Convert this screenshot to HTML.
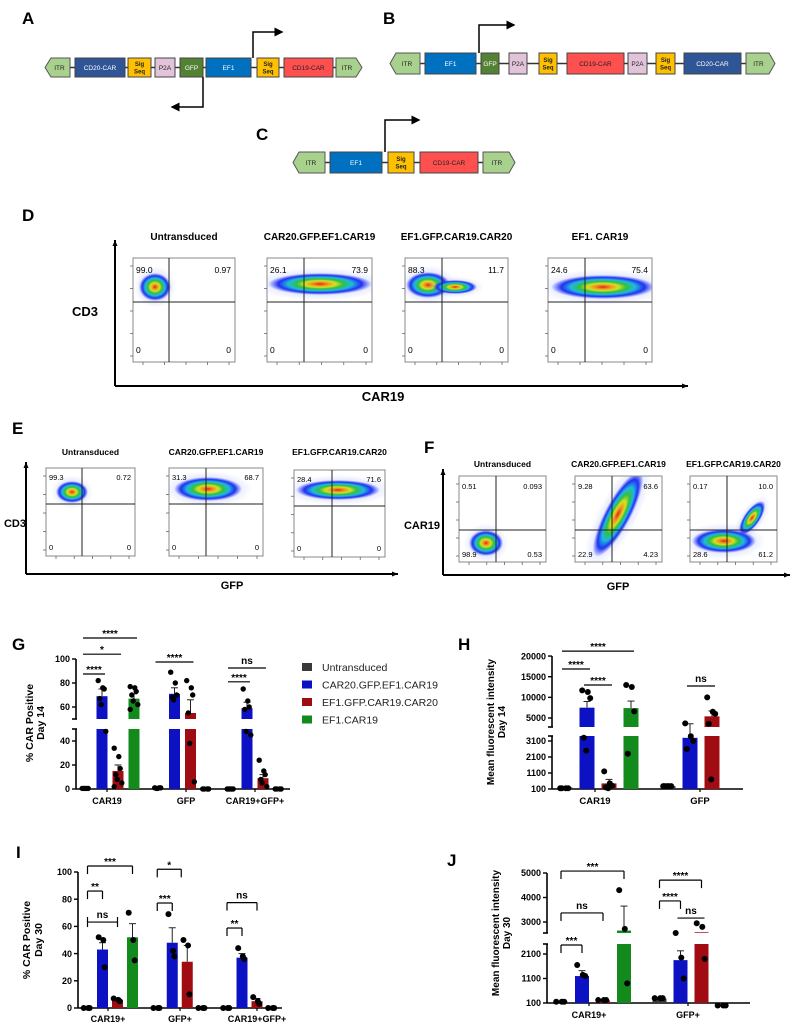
<!DOCTYPE html>
<html><head><meta charset="utf-8"><title>CAR constructs figure</title>
<style>
html,body{margin:0;padding:0;background:#fff;}
svg{display:block;font-family:"Liberation Sans",Arial,sans-serif;}
.nar{font-family:"Liberation Sans Narrow","Liberation Sans",sans-serif;}
</style></head>
<body>
<svg id="fig" xmlns="http://www.w3.org/2000/svg" width="793" height="1026" viewBox="0 0 793 1026">
<defs id="defs">
<radialGradient id="heat" cx="50%" cy="50%" r="50%">
<stop offset="0" stop-color="#d8281a"/>
<stop offset="0.15" stop-color="#f09020"/>
<stop offset="0.3" stop-color="#d8e020"/>
<stop offset="0.45" stop-color="#30c040"/>
<stop offset="0.62" stop-color="#20b8e0"/>
<stop offset="0.8" stop-color="#2030f0"/>
<stop offset="1" stop-color="#3040ff" stop-opacity="0"/>
</radialGradient>
<radialGradient id="haze" cx="50%" cy="50%" r="50%">
<stop offset="0" stop-color="#4060ff" stop-opacity="0.4"/>
<stop offset="1" stop-color="#4060ff" stop-opacity="0"/>
</radialGradient>
<marker id="ah" markerWidth="6" markerHeight="6" refX="5" refY="3" orient="auto"><path d="M0,0 L6,3 L0,6 z" fill="#000"/></marker>
</defs>
<g id="root"></g>
</svg>
<script>
// ===== Chart data (top level) =====
// Panel G: % CAR positive day 14
const gCategories = ['CAR19','GFP','CAR19+GFP+'];
const gUntransduced = [0.5, 0.8, 0.2];
const gCar20Gfp = [69, 71, 59];
const gEf1Gfp = [15, 55, 9];
const gEf1Car19 = [67, 0.3, 0.2];
const gErrCar20 = [6, 5, 5];
const gErrEf1Gfp = [5, 11, 3];
const gErrEf1 = [4, 0, 0];
const gPtsUnt = [[0.5,0.5,0.5,0.5,0.5],[1,1,1,0.5,0.5],[0,0,0,0,0]];
const gPtsCar20 = [[82,76,75,67,62,48],[89,80,70,68,66],[75,65,60,58,48,45]];
const gPtsEf1Gfp = [[34,27,17,12,8,5,2],[82,76,70,55,38,6],[24,15,12,8,5,2]];
const gPtsEf1 = [[77,76,73,70,65,62,58],[0,0,0,0],[0,0,0,0]];
const gTicksUpper = [60,80,100];
const gTicksLower = [0,20,40];

// Panel H: MFI day 14
const hCategories = ['CAR19','GFP'];
const hUntransduced = [200, 280];
const hCar20Gfp = [7500, 3300];
const hEf1Gfp = [450, 5400];
const hEf1Car19 = [7400, null];
const hErrCar20 = [1500, 300];
const hErrEf1Gfp = [250, 1300];
const hErrEf1 = [1700, 0];
const hPtsUnt = [[150,150,150,150],[280,280,280,280,280]];
const hPtsCar20 = [[11700,11300,9800,3300,2500],[3700,3400,3100,2600]];
const hPtsEf1Gfp = [[1200,450,300,200,150],[10000,6500,6000,3600,700]];
const hPtsEf1 = [[13000,12500,6600,2300],[]];
const hTicksUpper = [5000,10000,15000,20000];
const hTicksLower = [100,1100,2100,3100];

// Panel I: % CAR positive day 30
const iCategories = ['CAR19+','GFP+','CAR19+GFP+'];
const iUntransduced = [0, 0, 0];
const iCar20Gfp = [43, 48, 37];
const iEf1Gfp = [6, 34, 5];
const iEf1Car19 = [52, 0, 0];
const iErrCar20 = [5, 11, 3];
const iErrEf1Gfp = [1, 12, 2];
const iErrEf1 = [10, 0, 0];
const iPtsUnt = [[0,0,0],[0,0,0],[0,0,0]];
const iPtsCar20 = [[52,50,30],[69,42,38],[44,38,36]];
const iPtsEf1Gfp = [[7,6,5],[50,46,10],[8,5,3]];
const iPtsEf1 = [[70,50,35],[0,0,0],[0,0,0]];
const iTicks = [0,20,40,60,80,100];

// Panel J: MFI day 30
const jCategories = ['CAR19+','GFP+'];
const jUntransduced = [150, 280];
const jCar20Gfp = [1200, 1850];
const jEf1Gfp = [200, 2580];
const jEf1Car19 = [2650, 0];
const jErrCar20 = [220, 380];
const jErrEf1Gfp = [40, 0];
const jErrEf1 = [1000, 0];
const jPtsUnt = [[150,150,150],[300,300,300]];
const jPtsCar20 = [[1650,1250,1200],[2550,1950,1100]];
const jPtsEf1Gfp = [[220,220,220],[2950,2800,1900]];
const jPtsEf1 = [[4300,2720,900],[0,0,0]];
const jTicksUpper = [3000,4000,5000];
const jTicksLower = [100,1100,2100];

const legendLabels = ['Untransduced','CAR20.GFP.EF1.CAR19','EF1.GFP.CAR19.CAR20','EF1.CAR19'];
const seriesColors = ['#3a3a3a','#0c12c4','#a00c12','#138a1c'];

// ===== helpers =====
const NS='http://www.w3.org/2000/svg';
const root=document.getElementById('root');
const defs=document.getElementById('defs');
function E(tag,attrs,parent){const e=document.createElementNS(NS,tag);for(const k in attrs)e.setAttribute(k,attrs[k]);(parent||root).appendChild(e);return e;}
function T(x,y,txt,attrs,parent){const e=E('text',Object.assign({x:x,y:y},attrs||{}),parent);e.textContent=txt;return e;}

// ===== Panel letters =====
const letters=[['A',22,24],['B',383,24],['C',256,140],['D',22,221],['E',12,434],['F',424,453],['G',12,650],['H',458,650],['I',16,858],['J',447,866]];
letters.forEach(l=>{
  const t=T(l[1],l[2],l[0],{'font-size':17,'font-weight':'bold'});
  
  
});

// ===== Constructs =====
const partColors={ITR:'#a9d18e','CD20-CAR':'#2f5597',Sig:'#ffc000',P2A:'#e2c4da',GFP:'#548235',EF1:'#0070c0','CD19-CAR':'#ff5050'};
function construct(id,y1,y2,parts,arrows){
  const g=E('g',{});
  
  
  const cy=(y1+y2)/2;
  const bb=E('line',{x1:parts[0][1],x2:parts[parts.length-1][2],y1:cy,y2:cy,stroke:'#333','stroke-width':1.5},g);
  
  
  parts.forEach((p,i)=>{
    const [name,x1,x2,dir]=p;
    const col=partColors[name];
    let shp;
    if(name==='ITR'){
      const t=6;
      const pts= dir==='L' ? `${x1},${cy} ${x1+t},${y1} ${x2},${y1} ${x2},${y2} ${x1+t},${y2}` : `${x1},${y1} ${x2-t},${y1} ${x2},${cy} ${x2-t},${y2} ${x1},${y2}`;
      shp=E('polygon',{points:pts,fill:col,stroke:'#555','stroke-width':1},g);
    } else {
      shp=E('rect',{x:x1,y:y1,width:x2-x1,height:y2-y1,fill:col,stroke:'#444','stroke-width':1},g);
    }
    
    
    const tc=(name==='CD20-CAR'||name==='EF1'||name==='GFP')?'#fff':'#222';
    const cx=(x1+x2)/2;
    if(name==='Sig'){
      const a=T(cx,cy-1.5,'Sig',{'font-size':6,'text-anchor':'middle',fill:tc,'font-weight':'bold'},g);
      
      
      const b=T(cx,cy+6,'Seq',{'font-size':6,'text-anchor':'middle',fill:tc,'font-weight':'bold'},g);
      
      
    } else {
      const a=T(cx+(name==='ITR'?(dir==='L'?2:-2):0),cy+2.5,name,{'font-size':6.5,'text-anchor':'middle',fill:tc},g);
      
      
    }
  });
  arrows.forEach(a=>{
    const pa=E('polyline',{points:a,fill:'none',stroke:'#000','stroke-width':1.5,'marker-end':'url(#ah)'},g);
    
    
  });
}
construct('a',58,77,[['ITR',45,70,'L'],['CD20-CAR',75,125],['Sig',128,151],['P2A',155,175],['GFP',180,203],['EF1',206,251],['Sig',257,279],['CD19-CAR',284,333],['ITR',336,362,'R']],
  ['253,58 253,32 282,32','203,77 203,107 172,107']);
construct('b',53,74,[['ITR',390,420,'L'],['EF1',425,476],['GFP',481,499],['P2A',509,527],['Sig',539,557],['CD19-CAR',567,624],['P2A',628,647],['Sig',656,675],['CD20-CAR',684,741],['ITR',746,775,'R']],
  ['479,53 479,25 514,25']);
construct('c',152,173,[['ITR',293,325,'L'],['EF1',330,382],['Sig',388,414],['CD19-CAR',420,478],['ITR',483,515,'R']],
  ['385,152 385,120 419,120']);

// ===== Flow plots =====
let clipN=0;
function flowPanel(id,boxes,axis,ylab,xlab){
  const g=E('g',{});
  
  
  const va=E('line',{x1:axis.x,y1:axis.y1,x2:axis.x,y2:axis.y2,stroke:'#000','stroke-width':2},g);
  
  
  const vh=E('polygon',{points:`${axis.x-2.5},${axis.y1+6} ${axis.x},${axis.y1} ${axis.x+2.5},${axis.y1+6}`,fill:'#000'},g);
  
  
  const ha=E('line',{x1:axis.x,y1:axis.y2,x2:axis.x2,y2:axis.y2,stroke:'#000','stroke-width':2},g);
  
  
  const hh=E('polygon',{points:`${axis.x2-6},${axis.y2-2.5} ${axis.x2},${axis.y2} ${axis.x2-6},${axis.y2+2.5}`,fill:'#000'},g);
  
  
  const yl=T(ylab.x,ylab.y,ylab.t,{'font-size':ylab.s,'font-weight':'bold','text-anchor':'middle','class':'nar'},g);
  
  
  const xl=T(xlab.x,xlab.y,xlab.t,{'font-size':xlab.s,'font-weight':'bold','text-anchor':'middle','class':'nar'},g);
  
  
  boxes.forEach(b=>{
    const bg=E('g',{},g);
    
    
    const cid='clip'+(clipN++);
    const cp=E('clipPath',{id:cid},defs);
    E('rect',{x:b.x1,y:b.y1,width:b.x2-b.x1,height:b.y2-b.y1},cp);
    const tt=T((b.x1+b.x2)/2,b.ty,b.title,{'font-size':b.ts,'font-weight':'bold','text-anchor':'middle','class':'nar'},bg);
    
    
    const cg=E('g',{'clip-path':`url(#${cid})`},bg);
    
    
    b.blobs.forEach(bl=>{
      const hz=E('ellipse',{cx:bl[0],cy:bl[1],rx:bl[2]*1.3,ry:bl[3]*1.5,fill:'url(#haze)',transform:`rotate(${bl[4]||0} ${bl[0]} ${bl[1]})`},cg);
      
      
      const el=E('ellipse',{cx:bl[0],cy:bl[1],rx:bl[2],ry:bl[3],fill:'url(#heat)',transform:`rotate(${bl[4]||0} ${bl[0]} ${bl[1]})`},cg);
      
      
    });
    const fr=E('rect',{x:b.x1,y:b.y1,width:b.x2-b.x1,height:b.y2-b.y1,fill:'none',stroke:'#888','stroke-width':1},bg);
    
    
    const qv=E('line',{x1:b.qx,x2:b.qx,y1:b.y1,y2:b.y2,stroke:'#222','stroke-width':1},bg);
    
    
    const qh=E('line',{x1:b.x1,x2:b.x2,y1:b.qy,y2:b.qy,stroke:'#222','stroke-width':1},bg);
    
    
    for(let k=0;k<5;k++){
      const ty=b.y1+8+k*(b.y2-b.y1-14)/4;
      const tk=E('line',{x1:b.x1-3,x2:b.x1,y1:ty,y2:ty,stroke:'#666','stroke-width':0.8},bg);
      
      
      const tx=b.x1+10+k*(b.x2-b.x1-16)/4;
      const tk2=E('line',{x1:tx,x2:tx,y1:b.y2,y2:b.y2+3,stroke:'#666','stroke-width':0.8},bg);
      
      
    }
    const q=b.q;
    [[b.x1+3,b.ny1,q[0],'start'],[b.x2-4,b.ny1,q[1],'end'],[b.x1+3,b.ny2,q[2],'start'],[b.x2-4,b.ny2,q[3],'end']].forEach(n=>{
      const qt=T(n[0],n[1],n[2],{'font-size':b.ns,'text-anchor':n[3],'class':'nar'},bg);
      
      
    });
  });
}
flowPanel('d',[
  {x1:133,x2:235,y1:258,y2:362,qx:169,qy:302,ty:240,ts:10,title:'Untransduced',ny1:273,ny2:353,ns:8.5,q:['99.0','0.97','0','0'],blobs:[[155,287,16,14]]},
  {x1:267,x2:372,y1:258,y2:362,qx:304,qy:302,ty:240,ts:10,title:'CAR20.GFP.EF1.CAR19',ny1:273,ny2:353,ns:8.5,q:['26.1','73.9','0','0'],blobs:[[320,284,52,11]]},
  {x1:405,x2:508,y1:258,y2:362,qx:442,qy:302,ty:240,ts:10,title:'EF1.GFP.CAR19.CAR20',ny1:273,ny2:353,ns:8.5,q:['88.3','11.7','0','0'],blobs:[[428,285,22,13],[455,287,22,7]]},
  {x1:548,x2:652,y1:258,y2:362,qx:585,qy:302,ty:240,ts:10,title:'EF1. CAR19',ny1:273,ny2:353,ns:8.5,q:['24.6','75.4','0','0'],blobs:[[603,287,52,12]]}
],{x:115,y1:240,y2:386,x2:688},{x:85,y:316,t:'CD3',s:13},{x:383,y:401,t:'CAR19',s:13});

flowPanel('e',[
  {x1:46,x2:135,y1:468,y2:556,qx:82,qy:504,ty:455,ts:8.5,title:'Untransduced',ny1:480,ny2:550,ns:7.5,q:['99.3','0.72','0','0'],blobs:[[72,492,16,11]]},
  {x1:169,x2:263,y1:468,y2:556,qx:206,qy:504,ty:455,ts:8.5,title:'CAR20.GFP.EF1.CAR19',ny1:480,ny2:550,ns:7.5,q:['31.3','68.7','0','0'],blobs:[[208,489,34,12]]},
  {x1:294,x2:385,y1:470,y2:557,qx:332,qy:506,ty:455,ts:8.5,title:'EF1.GFP.CAR19.CAR20',ny1:482,ny2:551,ns:7.5,q:['28.4','71.6','0','0'],blobs:[[338,490,42,10]]}
],{x:26,y1:462,y2:574,x2:398},{x:15,y:527,t:'CD3',s:11},{x:232,y:589,t:'GFP',s:11});

flowPanel('f',[
  {x1:459,x2:546,y1:476,y2:562,qx:496,qy:530,ty:467,ts:8.5,title:'Untransduced',ny1:489,ny2:557,ns:7.5,q:['0.51','0.093','98.9','0.53'],blobs:[[486,543,17,13]]},
  {x1:575,x2:662,y1:476,y2:562,qx:612,qy:530,ty:467,ts:8.5,title:'CAR20.GFP.EF1.CAR19',ny1:489,ny2:557,ns:7.5,q:['9.28','63.6','22.9','4.23'],blobs:[[618,514,48,13,-62]]},
  {x1:690,x2:777,y1:476,y2:562,qx:727,qy:530,ty:467,ts:8.5,title:'EF1.GFP.CAR19.CAR20',ny1:489,ny2:557,ns:7.5,q:['0.17','10.0','28.6','61.2'],blobs:[[724,541,32,12],[752,518,20,8,-55]]}
],{x:443,y1:469,y2:575,x2:790},{x:422,y:529,t:'CAR19',s:11},{x:618,y:590,t:'GFP',s:11});

// ===== Bar charts =====
function makeScale(lo,up,brk,loTopY,upBotY){
  const f=v=> (up===null||v<=brk)?lo(v):up(v);
  f.lo=lo;f.up=up;f.brk=brk;f.loTopY=loTopY;f.upBotY=upBotY;return f;
}
function barChart(cfg){
  const g=E('g',{});
  
  
  const y=cfg.y, base=cfg.baseY;
  const xPos=(gi,si)=>cfg.c0+gi*cfg.step+(si-1.5)*cfg.space;
  cfg.axisSegs.forEach(s=>{
    const a=E('line',{x1:cfg.ax,x2:cfg.ax,y1:s[0],y2:s[1],stroke:'#000','stroke-width':1.6},g);
    
    
    if(cfg.axisSegs.length>1){
      [s[0],s[1]].forEach(yy=>{
        if(yy===cfg.axisSegs[0][0]||yy===cfg.axisSegs[cfg.axisSegs.length-1][1])return;
        const bk=E('line',{x1:cfg.ax-4,x2:cfg.ax+1,y1:yy,y2:yy,stroke:'#000','stroke-width':1.6},g);
        
        
      });
    }
  });
  const xa=E('line',{x1:cfg.ax,x2:cfg.axEnd,y1:base,y2:base,stroke:'#000','stroke-width':1.6},g);
  
  
  cfg.ticks.forEach(v=>{
    const yy=y(v);
    const tk=E('line',{x1:cfg.ax-4,x2:cfg.ax,y1:yy,y2:yy,stroke:'#000','stroke-width':1.4},g);
    
    
    const tl=T(cfg.ax-6,yy+3.2,String(v),{'font-size':cfg.tfs,'font-weight':'bold','text-anchor':'end'},g);
    
    
  });
  cfg.cats.forEach((c,gi)=>{
    const cx=cfg.labelX?cfg.labelX[gi]:xPos(gi,1.5);
    const tk=E('line',{x1:cx,x2:cx,y1:base,y2:base+3,stroke:'#000','stroke-width':1.2},g);
    
    
    const cl=T(cx,cfg.labelY,c,{'font-size':cfg.xfs,'font-weight':'bold','text-anchor':'middle'},g);
    
    
  });
  cfg.series.forEach((s,si)=>{
    s.vals.forEach((v,gi)=>{
      if(v===null||v===undefined)return;
      const x=xPos(gi,si)-cfg.bw/2;
      if(y.up!==null && v>y.brk){
        const r1=E('rect',{x:x,y:y.loTopY,width:cfg.bw,height:base-y.loTopY,fill:seriesColors[si]},g);
        
        
        const r2=E('rect',{x:x,y:y(v),width:cfg.bw,height:Math.max(0,y.upBotY-y(v)),fill:seriesColors[si]},g);
        
        
      } else {
        const r=E('rect',{x:x,y:y(v),width:cfg.bw,height:Math.max(0,base-y(v)),fill:seriesColors[si]},g);
        
        
      }
      const err=s.err[gi];
      if(err){
        const cxp=xPos(gi,si);
        const el=E('line',{x1:cxp,x2:cxp,y1:y(v),y2:y(v+err),stroke:'#222','stroke-width':1},g);
        
        
        const ec=E('line',{x1:cxp-3.5,x2:cxp+3.5,y1:y(v+err),y2:y(v+err),stroke:'#222','stroke-width':1},g);
        
        
      }
    });
  });
  cfg.series.forEach((s,si)=>{
    s.pts.forEach((arr,gi)=>{
      arr.forEach((v,k)=>{
        const dx=((k%3)-1)*cfg.jit+(k%2?0.8:-0.8);
        const p=E('circle',{cx:xPos(gi,si)+dx,cy:y(v),r:cfg.pr,fill:'#000'},g);
        
        
      });
    });
  });
  cfg.sigs.forEach(sg=>{
    const [g1,s1,g2,s2,val,lab,type]=sg;
    const x1=xPos(g1,s1)-(type==='line'?3:0), x2=xPos(g2,s2)+(type==='line'?3:0);
    const yy=y(val);
    const sl=E('line',{x1:x1,x2:x2,y1:yy,y2:yy,stroke:'#000','stroke-width':1.2},g);
    
    
    if(type==='bracket'){
      [x1,x2].forEach(xx=>{
        const t=E('line',{x1:xx,x2:xx,y1:yy,y2:yy+8,stroke:'#000','stroke-width':1.2},g);
        
        
      });
    } else if(type==='bar'){
      [x1,x2].forEach(xx=>{
        const t=E('line',{x1:xx,x2:xx,y1:yy-5,y2:yy+5,stroke:'#000','stroke-width':1.2},g);
        
        
      });
    }
    const isStar=lab.indexOf('*')>=0;
    const st=T((x1+x2)/2,isStar?yy-1:yy-4,lab,{'font-size':10,'font-weight':'bold','text-anchor':'middle'},g);
    
    
  });
  const yt=E('text',{transform:`translate(${cfg.yt.x},${cfg.yt.y}) rotate(-90)`,'font-size':cfg.yt.s,'font-weight':'bold','text-anchor':'middle'},g);
  
  
  const ts1=E('tspan',{x:0,y:0},yt);ts1.textContent=cfg.yt.l1;
  const ts2=E('tspan',{x:0,dy:cfg.yt.dy},yt);ts2.textContent=cfg.yt.l2;
}

// G
const yG=makeScale(v=>789-v*1.2, v=>719-(v-50)*1.2, 50, 729, 719);
barChart({name:'chart-g',y:yG,baseY:789,ax:76,axEnd:290,c0:110,step:72.5,space:16,bw:11,pr:2.7,jit:3,
  axisSegs:[[659,719],[729,789]],ticks:gTicksLower.concat(gTicksUpper),tfs:9,xfs:9,labelY:804,labelX:[107,186,255],
  cats:gCategories,
  series:[{key:'untransduced',vals:gUntransduced,err:[0,0,0],pts:gPtsUnt},
          {key:'car20-gfp-ef1-car19',vals:gCar20Gfp,err:gErrCar20,pts:gPtsCar20},
          {key:'ef1-gfp-car19-car20',vals:gEf1Gfp,err:gErrEf1Gfp,pts:gPtsEf1Gfp},
          {key:'ef1-car19',vals:gEf1Car19,err:gErrEf1,pts:gPtsEf1}],
  sigs:[[0,0,0,3,117.5,'****','line'],[0,0,0,2,104,'*','line'],[0,0,0,1,87.5,'****','line'],
        [1,0,1,2,97.5,'****','line'],[2,0,2,2,92.5,'ns','line'],[2,0,2,1,81,'****','line']],
  yt:{x:33,y:723,s:10.5,l1:'% CAR Positive',l2:'Day 14',dy:11}});

// H
const yH=makeScale(v=>789-(v-100)*0.016, v=>718-(v-5000)*0.00413, 3400, 736, 727);
barChart({name:'chart-h',y:yH,baseY:789,ax:552,axEnd:743,c0:598,step:103,space:22,bw:15,pr:3,jit:4,
  axisSegs:[[656,727],[736,789]],ticks:hTicksLower.concat(hTicksUpper),tfs:9,xfs:9.5,labelY:804,labelX:[595,700],
  cats:hCategories,
  series:[{key:'untransduced',vals:hUntransduced,err:[0,0],pts:hPtsUnt},
          {key:'car20-gfp-ef1-car19',vals:hCar20Gfp,err:hErrCar20,pts:hPtsCar20},
          {key:'ef1-gfp-car19-car20',vals:hEf1Gfp,err:hErrEf1Gfp,pts:hPtsEf1Gfp},
          {key:'ef1-car19',vals:hEf1Car19,err:hErrEf1,pts:hPtsEf1}],
  sigs:[[0,0,0,3,21200,'****','line'],[0,0,0,1,16860,'****','line'],[0,1,0,2,12990,'****','line'],[1,1,1,2,12750,'ns','line']],
  yt:{x:494,y:722,s:10,l1:'Mean fluorescent intensity',l2:'Day 14',dy:11}});

// I
const yI=makeScale(v=>1008-v*1.36, null, 1e9, 0, 0);
barChart({name:'chart-i',y:yI,baseY:1008,ax:78,axEnd:282,c0:110,step:69.75,space:15,bw:11,pr:3,jit:3,
  axisSegs:[[872,1008]],ticks:iTicks,tfs:9,xfs:9,labelY:1022,labelX:[108,180,257],
  cats:iCategories,
  series:[{key:'untransduced',vals:iUntransduced,err:[0,0,0],pts:iPtsUnt},
          {key:'car20-gfp-ef1-car19',vals:iCar20Gfp,err:iErrCar20,pts:iPtsCar20},
          {key:'ef1-gfp-car19-car20',vals:iEf1Gfp,err:iErrEf1Gfp,pts:iPtsEf1Gfp},
          {key:'ef1-car19',vals:iEf1Car19,err:iErrEf1,pts:iPtsEf1}],
  sigs:[[0,0,0,3,104.4,'***','bracket'],[0,0,0,1,86,'**','bracket'],[0,0,0,2,63.2,'ns','bar'],
        [1,0,1,1.6,102,'*','bracket'],[1,0,1,1,77.2,'***','bracket'],[2,0,2,2,77.5,'ns','bracket'],[2,0,2,1,58.8,'**','bracket']],
  yt:{x:30,y:940,s:10.5,l1:'% CAR Positive',l2:'Day 30',dy:12}});

// J
const yJ=makeScale(v=>1003-(v-100)*0.0245, v=>922-(v-3000)*0.0245, 2530, 944, 933);
barChart({name:'chart-j',y:yJ,baseY:1003,ax:547,axEnd:750,c0:592.5,step:98.5,space:21,bw:14,pr:3,jit:4,
  axisSegs:[[873,933],[944,1003]],ticks:jTicksLower.concat(jTicksUpper),tfs:9,xfs:9,labelY:1018,labelX:[589,688],
  cats:jCategories,
  series:[{key:'untransduced',vals:jUntransduced,err:[0,0],pts:jPtsUnt},
          {key:'car20-gfp-ef1-car19',vals:jCar20Gfp,err:jErrCar20,pts:jPtsCar20},
          {key:'ef1-gfp-car19-car20',vals:jEf1Gfp,err:jErrEf1Gfp,pts:jPtsEf1Gfp},
          {key:'ef1-car19',vals:jEf1Car19,err:jErrEf1,pts:jPtsEf1}],
  sigs:[[0,0,0,3,5080,'***','bracket'],[0,0,0,2,3370,'ns','bracket'],[0,0,0,1,2467,'***','bracket'],
        [1,0,1,2,4710,'****','bracket'],[1,0,1,1,3860,'****','bracket'],[1,1,1,2,3160,'ns','line']],
  yt:{x:499,y:933,s:10,l1:'Mean fluorescent intensity',l2:'Day 30',dy:11}});

// Legend
const lg=E('g',{});


legendLabels.forEach((lab,i)=>{
  const yy=663+i*17.5;
  const sw=E('rect',{x:302,y:yy,width:10,height:8,fill:seriesColors[i]},lg);
  
  
  const lt=T(322,yy+8,lab,{'font-size':10.5,fill:'#222'},lg);
  
  
});
</script>
</body></html>
